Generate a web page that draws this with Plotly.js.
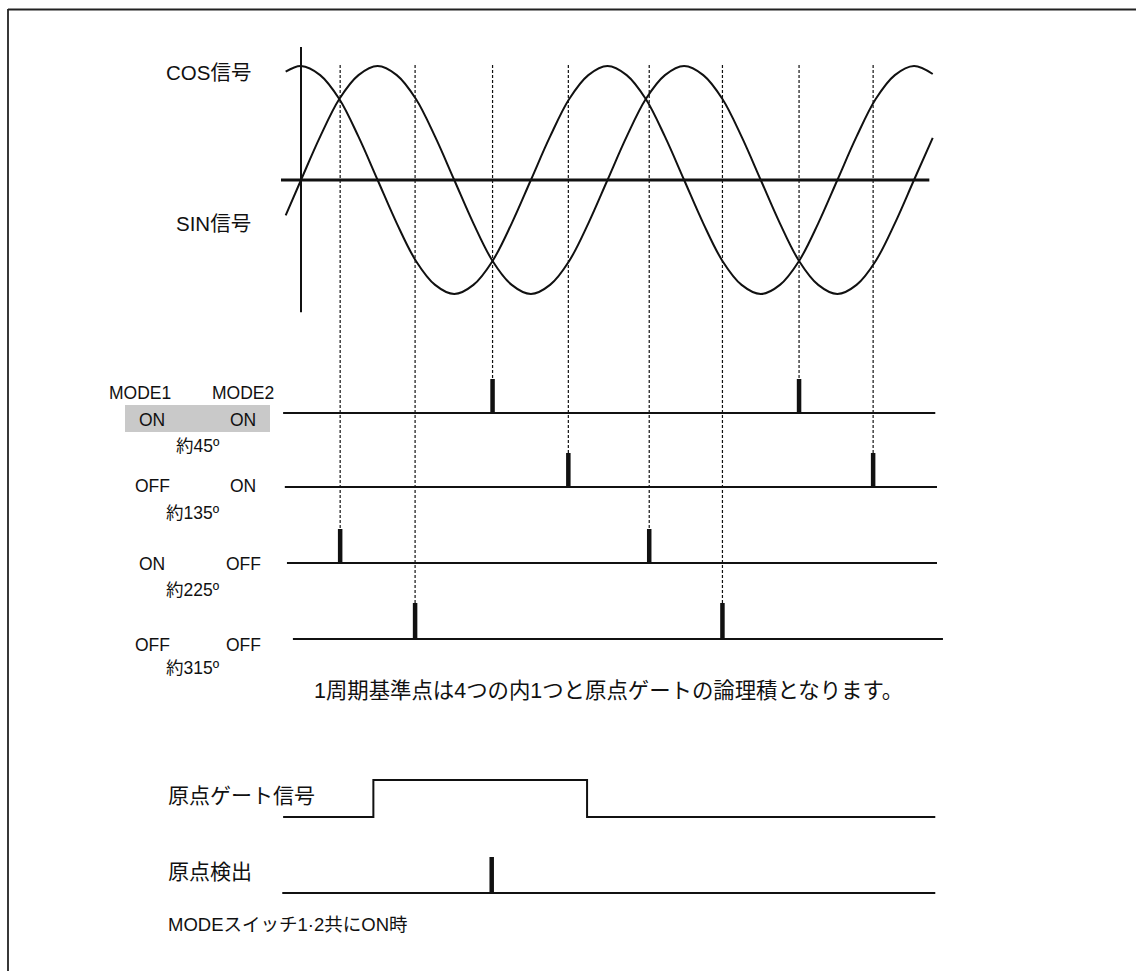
<!DOCTYPE html>
<html>
<head>
<meta charset="utf-8">
<script src="https://cdn.plot.ly/plotly-3.0.1.min.js"></script>
<style>html,body{margin:0;padding:0;background:#fff;}#chart{width:1136px;height:971px;}</style>
</head>
<body>
<div id="chart"></div>
<script>
// ---------- data (phase in degrees) ----------
const phase = [-18, 0, 22.5, 45, 67.5, 90, 112.5, 135, 157.5, 180, 202.5, 225, 247.5, 270, 292.5, 315, 337.5, 360,
  382.5, 405, 427.5, 450, 472.5, 495, 517.5, 540, 562.5, 585, 607.5, 630, 652.5, 675, 697.5, 720, 742];
const cosSignal = [0.95, 1, 0.92, 0.71, 0.38, 0, -0.38, -0.71, -0.92, -1, -0.92, -0.71, -0.38, 0, 0.38, 0.71, 0.92, 1,
  0.92, 0.71, 0.38, 0, -0.38, -0.71, -0.92, -1, -0.92, -0.71, -0.38, 0, 0.38, 0.71, 0.92, 1, 0.93];
const sinSignal = [-0.31, 0, 0.38, 0.71, 0.92, 1, 0.92, 0.71, 0.38, 0, -0.38, -0.71, -0.92, -1, -0.92, -0.71, -0.38, 0,
  0.38, 0.71, 0.92, 1, 0.92, 0.71, 0.38, 0, -0.38, -0.71, -0.92, -1, -0.92, -0.71, -0.38, 0, 0.37];

const mode1Labels = ['ON', 'OFF', 'ON', 'OFF'];
const mode2Labels = ['ON', 'ON', 'OFF', 'OFF'];
const angleLabels = ['約45º', '約135º', '約225º', '約315º'];
const rowPulses = [[225, 585], [314, 672], [46, 409], [134, 495]];
const rowStart = [-21, -19, -16.5, -9.5];
const rowEnd = [745, 747, 747, 754];

const gateEdges = [-21, 85, 336, 745];
const gateLevels = [0, 1, 0, 0];
const detectSpan = [-22, 745];
const detectPulse = [224];

const cosLabel = 'COS信号';
const sinLabel = 'SIN信号';
const noteText = '1周期基準点は4つの内1つと原点ゲートの論理積となります。';
const gateLabel = '原点ゲート信号';
const detectLabel = '原点検出';
const footLabel = 'MODEスイッチ1·2共にON時';

// ---------- layout helpers ----------
const W = 1136, H = 971;
const px = x => x / W;
const py = y => 1 - y / H;
const X0 = 301, SCALE = 613 / 720; // pixel of 0°, px per degree
const FONT = 'Liberation Sans, Arial, Noto Sans CJK JP, sans-serif';
const INK = '#111';

function rowDomain(base, top) {
  const h = base - top;
  return [py(base + 0.3 * h), py(top - 0.3 * h)];
}
const rowGeom = [[413, 379], [487, 453], [563, 529], [639, 603]];
const gateGeom = [817, 780];
const detectGeom = [893, 857];

const traces = [];
traces.push({x: phase, y: cosSignal, yaxis: 'y', mode: 'lines', line: {color: INK, width: 2, shape: 'spline'}, hoverinfo: 'skip'});
traces.push({x: phase, y: sinSignal, yaxis: 'y', mode: 'lines', line: {color: INK, width: 2, shape: 'spline'}, hoverinfo: 'skip'});

rowPulses.forEach((p, i) => {
  const ya = 'y' + (i + 2);
  traces.push({x: [rowStart[i], rowEnd[i]], y: [0, 0], yaxis: ya, mode: 'lines', line: {color: INK, width: 2.2}, hoverinfo: 'skip'});
  const px_ = [], py_ = [];
  p.forEach(v => { px_.push(v, v, null); py_.push(0, 1, null); });
  traces.push({x: px_, y: py_, yaxis: ya, mode: 'lines', line: {color: INK, width: 4.5}, hoverinfo: 'skip'});
});
traces.push({x: gateEdges, y: gateLevels, yaxis: 'y6', mode: 'lines', line: {color: INK, width: 2, shape: 'hv'}, hoverinfo: 'skip'});
traces.push({x: detectSpan, y: [0, 0], yaxis: 'y7', mode: 'lines', line: {color: INK, width: 2.2}, hoverinfo: 'skip'});
const dx = [], dy = [];
detectPulse.forEach(v => { dx.push(v, v, null); dy.push(0, 1, null); });
traces.push({x: dx, y: dy, yaxis: 'y7', mode: 'lines', line: {color: INK, width: 4.5}, hoverinfo: 'skip'});

const hidden = {visible: false, fixedrange: true};
const layout = {
  width: W, height: H,
  margin: {l: 0, r: 0, t: 0, b: 0},
  paper_bgcolor: '#fff', plot_bgcolor: 'rgba(0,0,0,0)',
  showlegend: false,
  font: {family: FONT, color: INK},
  xaxis: Object.assign({range: [-X0 / SCALE, (W - X0) / SCALE], domain: [0, 1], anchor: 'y'}, hidden),
  yaxis: Object.assign({range: [-1.2, 1.2], domain: [py(180 + 1.2 * 114), py(180 - 1.2 * 114)], anchor: 'x'}, hidden),
  shapes: [],
  annotations: []
};
rowGeom.forEach((g, i) => {
  layout['yaxis' + (i + 2)] = Object.assign({range: [-0.3, 1.3], domain: rowDomain(g[0], g[1]), anchor: 'x'}, hidden);
});
layout.yaxis6 = Object.assign({range: [-0.3, 1.3], domain: rowDomain(gateGeom[0], gateGeom[1]), anchor: 'x'}, hidden);
layout.yaxis7 = Object.assign({range: [-0.3, 1.3], domain: rowDomain(detectGeom[0], detectGeom[1]), anchor: 'x'}, hidden);

// frame
layout.shapes.push({type: 'line', xref: 'paper', yref: 'paper', x0: px(8), x1: px(1140), y0: py(9.5), y1: py(9.5), line: {color: '#222', width: 1.8}});
layout.shapes.push({type: 'line', xref: 'paper', yref: 'paper', x0: px(8), x1: px(8), y0: py(9), y1: py(975), line: {color: '#222', width: 1.8}});
// grey box behind ON ON
layout.shapes.push({type: 'rect', xref: 'paper', yref: 'paper', x0: px(125), x1: px(270), y0: py(432), y1: py(405), fillcolor: '#c9c9c9', line: {width: 0}, layer: 'below'});
// sine axes
layout.shapes.push({type: 'line', xref: 'x', yref: 'y', x0: -23.5, x1: 738, y0: 0, y1: 0, line: {color: INK, width: 3}});
layout.shapes.push({type: 'line', xref: 'x', yref: 'y', x0: 0, x1: 0, y0: -1.16, y1: 1.167, line: {color: INK, width: 2}});
// dotted guides
rowPulses.forEach((p, i) => {
  p.forEach(v => {
    layout.shapes.push({type: 'line', xref: 'x', yref: 'paper', x0: v, x1: v, y0: py(65), y1: py(rowGeom[i][1]),
      line: {color: '#111', width: 1.2, dash: '3px,2px'}, layer: 'below'});
  });
});

function label(text, x, y, size, anchor) {
  layout.annotations.push({text: text, xref: 'paper', yref: 'paper', x: px(x), y: py(y), xanchor: anchor || 'center', yanchor: 'middle',
    showarrow: false, font: {size: size, family: FONT, color: INK}});
}
label(cosLabel, 253, 73, 20.5, 'right');
label(sinLabel, 253, 223, 20.5, 'right');
label('MODE1', 140, 393, 17.5);
label('MODE2', 243, 393, 17.5);
const rowTextY = [420, 486, 564, 645];
const angleY = [446, 513, 590, 668];
const angleX = [198, 193, 193, 193];
for (let i = 0; i < 4; i++) {
  label(mode1Labels[i], 152, rowTextY[i], 17.5);
  label(mode2Labels[i], 243, rowTextY[i], 17.5);
  label(angleLabels[i], angleX[i], angleY[i], 17.5);
}
label(noteText, 312, 691, 21.4, 'left');
label(gateLabel, 166, 795, 21, 'left');
label(detectLabel, 166, 871, 21, 'left');
label(footLabel, 166, 924, 18.5, 'left');

Plotly.newPlot('chart', traces, layout, {staticPlot: true, displayModeBar: false});
</script>
</body>
</html>
